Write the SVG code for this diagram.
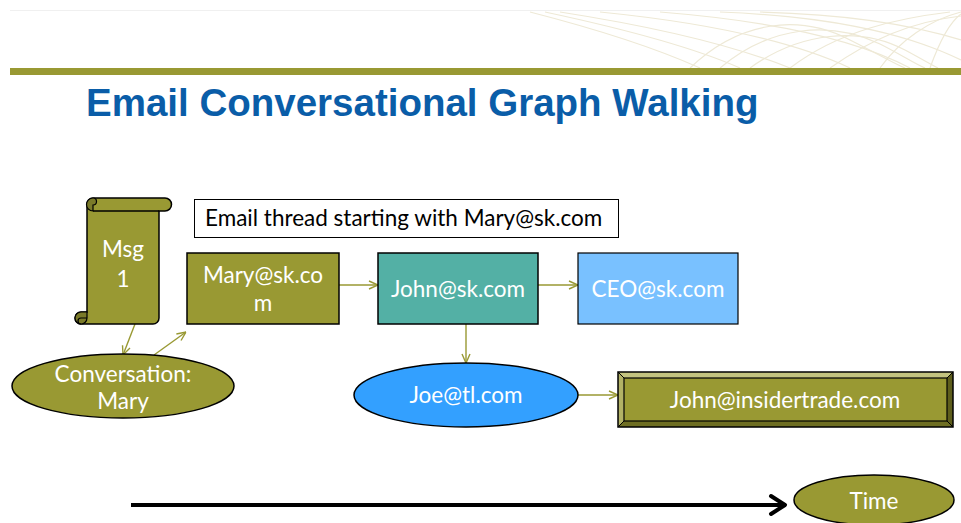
<svg xmlns="http://www.w3.org/2000/svg" width="961" height="523" viewBox="0 0 961 523">
  <defs>
    <style>
      .title { font-family: "Liberation Sans", Arial, sans-serif; font-weight: bold; font-size: 38.5px; fill: #0A5DA8; }
      .lbl { font-family: Lato, "Open Sans", sans-serif; font-size: 22.5px; fill: #FFFFFF; text-anchor: middle; }
      .cap { font-family: Lato, "Open Sans", sans-serif; font-size: 22.5px; fill: #000000; }
      .olive { fill: #999933; stroke: #000000; stroke-width: 1.5; }
      .link { fill: none; stroke: #999933; stroke-width: 1.4; }
      .deco { fill: none; stroke: #EEE9D6; stroke-width: 1.2; }
    </style>
    <marker id="arr" viewBox="0 0 10 10" refX="10" refY="5" markerWidth="10" markerHeight="10" markerUnits="userSpaceOnUse" orient="auto">
      <path d="M1,1 L10,5 L1,9" fill="none" stroke="#999933" stroke-width="1.4"/>
    </marker>
    <marker id="timeArr" viewBox="0 0 20 24" refX="18" refY="12" markerWidth="20" markerHeight="24" markerUnits="userSpaceOnUse" orient="auto">
      <path d="M3,3 L17,12 L3,21" fill="none" stroke="#000000" stroke-width="4" stroke-linecap="round" stroke-linejoin="round"/>
    </marker>
  </defs>

  <rect width="961" height="523" fill="#FFFFFF"/>

  <!-- header rule and background swirl -->
  <line x1="10" y1="10.5" x2="961" y2="10.5" stroke="#F0F0F0" stroke-width="1"/>
  <g class="deco">
    <path d="M530,12 C600,30 660,50 700,68"/>
    <path d="M545,12 C620,28 690,46 740,68"/>
    <path d="M560,12 C650,26 730,44 790,68"/>
    <path d="M600,12 C700,22 790,40 850,68"/>
    <path d="M660,12 C760,20 850,36 910,68"/>
    <path d="M720,12 C820,16 900,30 961,60"/>
    <path d="M690,68 C740,20 800,14 850,40 C880,55 895,64 905,68"/>
    <path d="M720,68 C770,26 830,20 880,44 C900,54 915,64 925,68"/>
    <path d="M750,68 C800,32 860,26 905,50 C920,58 930,64 938,68"/>
    <path d="M790,68 C840,30 900,18 950,12"/>
    <path d="M830,68 C870,40 910,22 961,16"/>
    <path d="M880,68 C900,40 930,20 961,12"/>
    <path d="M930,68 C940,40 950,22 961,14"/>
    <path d="M760,12 C840,14 910,24 961,40"/>
  </g>
  <rect x="10" y="68" width="951" height="7" fill="#999933"/>

  <text class="title" x="86" y="116">Email Conversational Graph Walking</text>

  <!-- connectors -->
  <g id="connectors">
    <line class="link" x1="135" y1="324" x2="123" y2="355" marker-end="url(#arr)"/>
    <line class="link" x1="154" y1="355" x2="186" y2="332" marker-end="url(#arr)"/>
    <line class="link" x1="339" y1="285" x2="378" y2="285" marker-end="url(#arr)"/>
    <line class="link" x1="538" y1="285" x2="578" y2="285" marker-end="url(#arr)"/>
    <line class="link" x1="466" y1="324" x2="466" y2="363" marker-end="url(#arr)"/>
    <line class="link" x1="578" y1="395" x2="618" y2="395" marker-end="url(#arr)"/>
    <line x1="131" y1="505" x2="786" y2="505" stroke="#000000" stroke-width="4" marker-end="url(#timeArr)"/>
  </g>

  <!-- scroll: Msg 1 -->
  <g id="msg1">
    <path class="olive" d="M87,204 V312 H81 A6,6 0 0 0 81,324 H153 A6,6 0 0 0 159,318 V211 H165 A6.5,6.5 0 0 0 165,198 H93 A6,6 0 0 0 87,204 Z"/>
    <path d="M93,211 A6.5,6.5 0 0 1 93,198 A3.5,3.5 0 0 1 93,205 Z" fill="#7A7A29" stroke="#000000" stroke-width="1.2"/>
    <line x1="93" y1="211" x2="159" y2="211" stroke="#000000" stroke-width="1.5"/>
    <path d="M81,312 A6,6 0 0 0 81,324 A6,6 0 0 0 87,318 V312 Z" fill="#7A7A29" stroke="#000000" stroke-width="1.2"/>
    <path d="M81,324 A3,3 0 0 1 81,318 H87" fill="none" stroke="#000000" stroke-width="1.2"/>
    <text class="lbl" x="123" y="257">Msg</text>
    <text class="lbl" x="123" y="287">1</text>
  </g>

  <!-- thread caption -->
  <g id="caption">
    <rect x="194.5" y="199.5" width="424" height="38" fill="#FFFFFF" stroke="#000000" stroke-width="1"/>
    <text class="cap" x="205" y="226">Email thread starting with Mary@sk.com</text>
  </g>

  <g id="mary">
    <rect class="olive" x="187" y="253" width="152" height="71"/>
    <text class="lbl" x="263" y="283">Mary@sk.co</text>
    <text class="lbl" x="263" y="311">m</text>
  </g>

  <g id="conversation">
    <ellipse class="olive" cx="123" cy="386" rx="111" ry="32"/>
    <text class="lbl" x="123" y="382">Conversation:</text>
    <text class="lbl" x="123" y="409">Mary</text>
  </g>

  <g id="john">
    <rect x="378" y="253" width="160" height="71" fill="#53B0A5" stroke="#000000" stroke-width="1.5"/>
    <text class="lbl" x="458" y="297">John@sk.com</text>
  </g>

  <g id="ceo">
    <rect x="578" y="253" width="160" height="71" fill="#79C1FF" stroke="#000000" stroke-width="1.2"/>
    <text class="lbl" x="658" y="297">CEO@sk.com</text>
  </g>

  <g id="joe">
    <ellipse cx="466" cy="395" rx="112" ry="32" fill="#33A0FF" stroke="#000000" stroke-width="1.5"/>
    <text class="lbl" x="466" y="403">Joe@tl.com</text>
  </g>

  <!-- bevelled box -->
  <g id="insider">
    <rect x="618" y="372" width="335" height="55" fill="#999933"/>
    <polygon points="618,372 953,372 947,378 624,378" fill="#C4C47F"/>
    <polygon points="618,372 624,378 624,421 618,427" fill="#B2B266"/>
    <polygon points="618,427 624,421 947,421 953,427" fill="#6E6E22"/>
    <polygon points="953,372 953,427 947,421 947,378" fill="#5E5E1C"/>
    <rect x="618" y="372" width="335" height="55" fill="none" stroke="#000000" stroke-width="1.5"/>
    <rect x="624" y="378" width="323" height="43" fill="none" stroke="#000000" stroke-width="1.2"/>
    <path d="M618,372 L624,378 M953,372 L947,378 M618,427 L624,421 M953,427 L947,421" stroke="#000000" stroke-width="1"/>
    <text class="lbl" x="785" y="408">John@insidertrade.com</text>
  </g>

  <g id="time">
    <ellipse class="olive" cx="874" cy="500" rx="80" ry="25"/>
    <text class="lbl" x="874" y="509">Time</text>
  </g>
</svg>
